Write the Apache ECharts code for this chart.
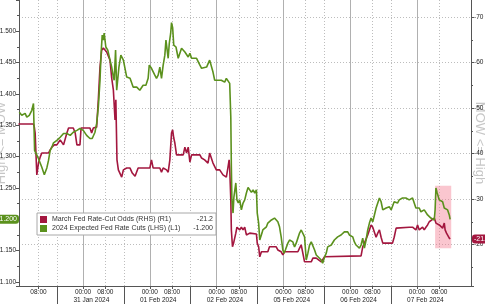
<!DOCTYPE html>
<html><head><meta charset="utf-8">
<script src="https://cdn.jsdelivr.net/npm/echarts@6/dist/echarts.min.js"></script>
<style>html,body{margin:0;padding:0;background:#fff}#c{width:485px;height:304px}</style>
</head><body><div id="c"></div>
<script>
// Trading-time axis: hours since 30 Jan 2024 00:00, weekend removed (one 24h block per trading day)
const dayNames = ['30 Jan 2024','31 Jan 2024','01 Feb 2024','02 Feb 2024','05 Feb 2024','06 Feb 2024','07 Feb 2024'];
const midnightTicks = [24, 48, 72, 96, 120, 144];
const eightTicks = [8, 32, 56, 80, 104, 128, 152];
const daySeparators = [14.7, 38.7, 62.7, 86.7, 110.7, 134.7];
const dateLabelPos = [27, 51, 75, 99, 123, 147];

const redName = 'March Fed Rate-Cut Odds (RHS) (R1)';
const greenName = '2024 Expected Fed Rate Cuts (LHS) (L1)';
const leftTitle = 'High <= MOW';
const rightTitle = 'MOW <= High';

// 2024 Expected Fed Rate Cuts (LHS) [hour, value]
const greenPts = [
[1.1,-1.371],[2.0,-1.366],[3.2,-1.369],[3.8,-1.363],[4.7,-1.366],[5.6,-1.374],[6.2,-1.385],[6.6,-1.310],[7.8,-1.299],[8.6,-1.290],[9.2,-1.283],[10.1,-1.271],[11.0,-1.282],[11.6,-1.294],[12.2,-1.310],[12.8,-1.315],[13.4,-1.322],[14.0,-1.323],[14.6,-1.326],[15.8,-1.331],[17.0,-1.337],[18.2,-1.337],[19.4,-1.334],[20.5,-1.339],[21.8,-1.342],[22.9,-1.345],[24.1,-1.342],[25.3,-1.334],[26.5,-1.329],[27.3,-1.329],[28.3,-1.339],[28.9,-1.353],[29.5,-1.379],[30.1,-1.422],[30.5,-1.465],[30.9,-1.494],[31.3,-1.486],[31.6,-1.497],[32.2,-1.475],[32.9,-1.470],[33.7,-1.454],[34.3,-1.443],[34.9,-1.427],[35.2,-1.422],[35.7,-1.470],[36.1,-1.406],[36.9,-1.443],[37.6,-1.462],[38.5,-1.454],[39.7,-1.427],[40.9,-1.425],[42.0,-1.411],
[43.3,-1.411],[44.4,-1.406],[45.1,-1.404],[45.6,-1.414],[46.6,-1.414],[47.4,-1.425],[47.8,-1.446],[48.6,-1.441],[49.8,-1.430],[50.4,-1.425],[51.0,-1.430],[51.6,-1.443],[52.2,-1.425],[52.8,-1.446],[53.4,-1.462],[53.8,-1.486],[54.6,-1.457],[55.0,-1.481],[55.5,-1.497],[55.8,-1.514],[56.2,-1.506],[56.6,-1.478],[57.4,-1.475],[58.2,-1.457],[58.8,-1.459],[59.4,-1.473],[60.0,-1.470],[60.6,-1.467],[61.2,-1.465],[61.8,-1.459],[62.4,-1.465],[63.0,-1.457],[63.6,-1.459],[64.8,-1.457],[66.0,-1.446],[66.6,-1.441],[67.1,-1.438],[68.4,-1.443],[69.5,-1.454],[70.1,-1.451],[70.7,-1.435],[71.3,-1.422],[71.9,-1.425],[72.5,-1.422],[73.7,-1.422],[74.9,-1.419],[75.5,-1.425],[76.1,-1.422],[76.7,-1.417],[77.1,-1.363],[77.3,-1.283],[77.5,-1.231],[77.9,-1.210],[78.2,-1.235],[78.9,-1.258],[79.3,-1.231],[79.8,-1.226],[80.3,-1.231],[80.9,-1.215],[81.5,-1.226],[82.1,-1.231],[82.7,-1.242],[83.3,-1.251],[83.9,-1.247],
[84.5,-1.243],[85.1,-1.247],[85.7,-1.242],[86.3,-1.247],[86.6,-1.210],[87.1,-1.194],[87.5,-1.167],[87.8,-1.164],[88.3,-1.178],[88.6,-1.183],[89.3,-1.186],[89.9,-1.188],[90.4,-1.194],[91.0,-1.196],[91.7,-1.199],[92.8,-1.202],[93.4,-1.202],[94.0,-1.196],[94.6,-1.188],[95.2,-1.172],[95.8,-1.151],[96.2,-1.146],[96.7,-1.151],[97.6,-1.162],[98.2,-1.167],[98.8,-1.170],[99.4,-1.164],[100.0,-1.156],[100.6,-1.162],[101.2,-1.170],[101.8,-1.178],[102.4,-1.183],[103.0,-1.183],[103.6,-1.172],[104.2,-1.135],[104.8,-1.146],[105.4,-1.159],[106.0,-1.164],[106.6,-1.162],[107.2,-1.151],[107.8,-1.143],[108.4,-1.140],[109.6,-1.135],[110.1,-1.130],[110.8,-1.140],[111.4,-1.146],[111.9,-1.156],[112.5,-1.159],[113.2,-1.159],[113.7,-1.162],[114.3,-1.167],[115.5,-1.172],[116.7,-1.175],[117.9,-1.180],[118.5,-1.183],[119.1,-1.180],[119.7,-1.175],[120.3,-1.178],[120.9,-1.172],[121.5,-1.164],[122.1,-1.159],[122.7,-1.156],[123.3,-1.154],
[123.9,-1.159],[124.5,-1.170],[125.1,-1.154],[125.7,-1.167],[126.3,-1.183],[126.9,-1.194],[127.5,-1.202],[128.1,-1.196],[128.7,-1.207],[129.3,-1.218],[129.9,-1.226],[130.5,-1.234],[131.1,-1.228],[131.7,-1.215],[132.3,-1.218],[132.9,-1.218],[134.1,-1.220],[134.7,-1.215],[135.2,-1.218],[135.8,-1.228],[136.5,-1.231],[137.0,-1.226],[137.6,-1.231],[138.8,-1.234],[140.0,-1.234],[141.2,-1.231],[141.8,-1.228],[142.4,-1.234],[143.0,-1.226],[143.6,-1.218],[144.2,-1.215],[144.8,-1.218],[145.4,-1.212],[146.0,-1.210],[146.6,-1.215],[147.2,-1.212],[147.8,-1.207],[148.4,-1.207],[149.0,-1.202],[149.6,-1.199],[150.2,-1.199],[150.5,-1.215],[150.8,-1.250],[151.2,-1.243],[151.6,-1.242],[152.0,-1.231],[152.6,-1.234],[153.2,-1.228],[153.8,-1.218],[154.4,-1.218],[155.0,-1.215],[155.6,-1.207],[155.9,-1.200]
];

// March Fed Rate-Cut Odds (RHS) [hour, value]
const redPts = [
[0.8,-46.5],[6.2,-46.5],[6.5,-45.8],[6.8,-44.5],[7.4,-35.3],[8.0,-37.9],[8.6,-39.2],[9.2,-40.1],[11.6,-40.1],[12.2,-40.8],[12.8,-41.4],[13.7,-41.9],[14.6,-41.9],[15.8,-43.0],[17.0,-41.9],[17.6,-41.9],[18.2,-44.5],[18.8,-45.6],[20.5,-45.6],[21.2,-44.5],[21.8,-41.9],[22.9,-41.9],[23.3,-45.6],[26.5,-45.6],[27.1,-44.5],[27.7,-45.6],[28.9,-45.8],[29.5,-51.8],[30.1,-59.0],[30.7,-62.7],[31.3,-63.2],[31.9,-63.4],[32.5,-62.3],[33.7,-60.5],[34.3,-56.6],[34.9,-54.0],[35.5,-47.4],[35.8,-51.8],[36.2,-38.6],[36.7,-36.4],[37.9,-34.8],[38.5,-36.4],[39.7,-36.8],[40.9,-36.8],[41.7,-35.7],[42.7,-35.0],
[43.8,-36.8],[48.0,-36.8],[48.6,-38.6],[49.2,-36.8],[51.6,-36.8],[52.2,-35.9],[52.8,-36.8],[54.0,-36.4],[54.6,-35.9],[55.2,-38.6],[55.8,-44.5],[56.2,-45.2],[56.6,-43.4],[57.0,-42.3],[57.6,-39.7],[60.0,-39.7],[60.6,-41.4],[61.2,-40.1],[61.8,-41.4],[62.4,-38.1],[63.0,-39.7],[66.0,-39.7],[66.6,-39.0],[67.7,-38.6],[68.9,-37.9],[69.5,-40.1],[70.1,-40.3],[70.7,-37.9],[71.3,-37.5],[71.9,-36.4],[73.1,-36.4],[74.3,-35.3],[75.5,-34.8],[76.1,-37.0],[76.5,-38.6],[76.7,-36.8],[77.1,-29.8],[77.3,-23.2],[77.7,-19.5],[78.1,-20.3],[78.9,-22.5],[79.3,-23.8],[80.3,-23.2],[80.9,-23.8],[81.5,-23.2],[82.1,-23.8],[82.7,-22.1],[83.9,-22.5],
[86.3,-22.3],[86.6,-20.3],[87.1,-19.5],[87.5,-17.3],[88.1,-18.4],[90.4,-18.4],[91.0,-19.5],[93.4,-19.5],[94.0,-18.8],[95.2,-18.4],[95.8,-17.7],[96.4,-18.4],[101.2,-18.4],[101.8,-19.2],[102.4,-19.9],[103.0,-19.9],[103.6,-16.2],[106.0,-16.2],[106.6,-17.0],[107.8,-17.0],[108.4,-16.6],[109.6,-16.2],[110.1,-16.6],[110.8,-17.3],[111.4,-17.5],[123.9,-17.5],[124.5,-19.5],[125.1,-20.3],
[125.7,-19.9],[126.3,-22.1],[126.9,-23.2],[127.5,-24.3],[128.1,-23.8],[128.7,-23.6],[129.3,-21.6],[129.9,-22.5],[130.5,-23.2],[131.1,-21.6],[131.7,-20.3],[135.2,-20.3],[135.8,-21.6],[136.5,-23.6],[137.0,-23.8],[141.2,-23.8],[141.8,-23.6],[142.4,-23.8],[143.6,-23.2],[144.2,-24.3],[144.8,-23.2],[146.0,-23.8],[146.6,-23.2],[147.2,-23.8],[147.8,-24.3],[148.4,-25.0],[149.0,-25.4],[150.2,-25.8],[150.8,-24.7],[151.4,-25.0],[152.0,-24.3],[152.6,-24.7],[153.2,-23.6],[153.8,-24.7],[154.1,-23.2],[154.6,-22.5],[155.0,-22.1],[155.6,-21.4],[155.9,-21.2]
];

// highlighted window [hour start, hour end] and RHS range
const highlightHours = [150.5, 156.3];
const highlightRHS = [-32.9, -19.2];

const leftRange = [-1.55, -1.0936];
const rightRange = [-80, -10.88];
const xRange = [1.0, 163.4];

const RED = '#a3173f', GREEN = '#5b911d';
const lastGreen = greenPts[greenPts.length-1][1];
const lastRed = redPts[redPts.length-1][1];
const FONT = 'Liberation Sans, Arial, sans-serif';
const lab = {fontSize: 6.5, color: '#222', fontFamily: FONT};
const dotted = {color: '#bdbdbd', type: [1, 2], width: 1};
const titleStyle = {color: '#c6c6c6', fontSize: 13, fontFamily: FONT};

const chart = echarts.init(document.getElementById('c'), null, {renderer: 'canvas'});
const xBase = {type: 'value', min: xRange[0], max: xRange[1], position: 'bottom', gridIndex: 0};
chart.setOption({
  animation: false,
  backgroundColor: '#fff',
  textStyle: {fontFamily: FONT},
  grid: [
    {left: 19, right: 14, top: 0, bottom: 18, containLabel: false, outerBoundsMode: 'none'},
    {left: 19, right: 14, top: -28.5, bottom: 18, containLabel: false, outerBoundsMode: 'none'}
  ],
  legend: {
    left: 37, top: 213, orient: 'vertical', icon: 'rect', itemWidth: 7, itemHeight: 7, itemGap: 2,
    padding: [3, 3, 3, 3], borderColor: '#a8a8a8', borderWidth: 1, backgroundColor: '#fff',
    data: [redName, greenName],
    textStyle: {fontSize: 7, color: '#333', fontFamily: FONT,
      rich: {n: {width: 133, fontSize: 7, color: '#333'}, v: {width: 28, align: 'right', fontSize: 7, color: '#333'}}},
    formatter: function (name) {
      const v = name === redName ? lastRed.toFixed(1) : lastGreen.toFixed(3);
      return '{n|' + name + '}{v|' + v + '}';
    }
  },
  xAxis: [
    Object.assign({}, xBase, {
      axisLine: {show: true, lineStyle: {color: '#555'}},
      axisTick: {show: true, length: 3, customValues: midnightTicks, lineStyle: {color: '#555'}},
      axisLabel: Object.assign({customValues: midnightTicks, margin: 3, formatter: () => '00:00'}, lab),
      splitLine: {show: true, lineStyle: {color: '#b0b0b0', width: 1}}
    }),
    Object.assign({}, xBase, {
      axisLine: {show: false},
      axisTick: {show: true, length: 3, customValues: eightTicks, lineStyle: {color: '#555'}},
      axisLabel: Object.assign({customValues: eightTicks, margin: 3, formatter: () => '08:00'}, lab),
      splitLine: {show: true, lineStyle: dotted}
    }),
    Object.assign({}, xBase, {
      axisLine: {show: false},
      axisTick: {show: true, length: 18, customValues: daySeparators, lineStyle: {color: '#555'}},
      axisLabel: Object.assign({customValues: dateLabelPos, margin: 11,
        formatter: v => dayNames[Math.floor(v / 24)]}, lab),
      splitLine: {show: true, lineStyle: dotted}
    }),
    {type: 'value', gridIndex: 1, min: xRange[0], max: xRange[1], show: false}
  ],
  yAxis: [
    {type: 'value', gridIndex: 0, position: 'left', inverse: true, min: leftRange[0], max: leftRange[1], interval: 0.05,
      axisLine: {show: true, lineStyle: {color: '#555'}},
      axisTick: {show: true, length: 3, lineStyle: {color: '#555'}},
      minorTick: {show: true, splitNumber: 2, length: 2, lineStyle: {color: '#555'}},
      axisLabel: Object.assign({margin: 3, showMinLabel: false, showMaxLabel: false, formatter: v => v.toFixed(3)}, lab),
      splitLine: {show: false},
      name: leftTitle, nameLocation: 'middle', nameRotate: 90, nameGap: 11, nameMoveOverlap: false,
      nameTextStyle: titleStyle
    },
    {type: 'value', gridIndex: 0, position: 'left', offset: 0, inverse: true, min: leftRange[0], max: leftRange[1],
      axisLine: {show: false}, axisTick: {show: false}, splitLine: {show: false},
      axisLabel: {customValues: [lastGreen], margin: 0, formatter: v => v.toFixed(3), fontSize: 7, color: '#fff',
        fontFamily: FONT, backgroundColor: GREEN, padding: [1, 2, 1, 2], borderRadius: 3}
    },
    {type: 'value', gridIndex: 1, position: 'right', inverse: true, min: rightRange[0], max: rightRange[1], interval: 10,
      axisLine: {show: true, lineStyle: {color: '#555'}},
      axisTick: {show: true, length: 3, lineStyle: {color: '#555'}},
      minorTick: {show: true, splitNumber: 2, length: 2, lineStyle: {color: '#555'}},
      axisLabel: Object.assign({margin: 3, showMaxLabel: false, formatter: v => String(Math.round(v))}, lab),
      splitLine: {show: true, lineStyle: dotted}
    },
    {type: 'value', gridIndex: 1, position: 'right', offset: 0, inverse: true, min: rightRange[0], max: rightRange[1],
      axisLine: {show: false}, axisTick: {show: false}, splitLine: {show: false},
      axisLabel: {customValues: [lastRed], margin: 1, formatter: v => v.toFixed(1), fontSize: 7, color: '#fff',
        fontFamily: FONT, backgroundColor: RED, padding: [1, 2, 1, 2], borderRadius: 3}
    },
    {type: 'value', gridIndex: 0, position: 'right', offset: 0, min: 0, max: 1,
      axisLine: {show: false}, axisTick: {show: false}, splitLine: {show: false}, axisLabel: {show: false},
      name: rightTitle, nameLocation: 'middle', nameRotate: -90, nameGap: 2, nameMoveOverlap: false,
      nameTextStyle: titleStyle
    }
  ],
  series: [
    {name: redName, type: 'line', xAxisIndex: 3, yAxisIndex: 2, data: redPts, showSymbol: false, symbol: 'none',
      lineStyle: {color: RED, width: 1.6}, itemStyle: {color: RED}, z: 3},
    {name: greenName, type: 'line', xAxisIndex: 0, yAxisIndex: 0, data: greenPts, showSymbol: false, symbol: 'none',
      lineStyle: {color: GREEN, width: 1.6}, itemStyle: {color: GREEN}, z: 4},
    {name: 'highlight', type: 'line', xAxisIndex: 3, yAxisIndex: 2, data: [], z: 10,
      markArea: {silent: true, itemStyle: {color: 'rgba(242,120,140,0.42)'},
        data: [[{coord: [highlightHours[0], highlightRHS[0]]}, {coord: [highlightHours[1], highlightRHS[1]]}]]}}
  ]
});
</script></body></html>
